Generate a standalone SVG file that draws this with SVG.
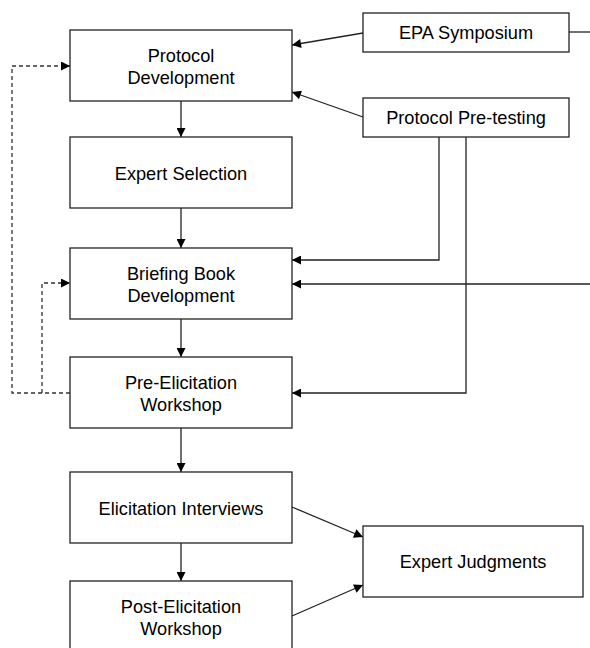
<svg xmlns="http://www.w3.org/2000/svg" width="590" height="648" viewBox="0 0 590 648">
<style>
.box{fill:#fff;stroke:#222;stroke-width:1.3}
.t{font-family:"Liberation Sans",Arial,sans-serif;font-size:18.2px;fill:#000;text-anchor:middle}
.c{fill:none;stroke:#222;stroke-width:1.3}
.d{fill:none;stroke:#333;stroke-width:1.3;stroke-dasharray:4,3}
</style>
<defs>
<marker id="a" viewBox="0 0 10 10" refX="10" refY="5" markerWidth="11" markerHeight="9" markerUnits="userSpaceOnUse" orient="auto"><path d="M0,0L10,5L0,10z" fill="#000"/></marker>
</defs>
<g id="connectors">
<line class="c" x1="181" y1="101" x2="181" y2="137" marker-end="url(#a)"/>
<line class="c" x1="181" y1="208" x2="181" y2="248" marker-end="url(#a)"/>
<line class="c" x1="181" y1="319" x2="181" y2="357" marker-end="url(#a)"/>
<line class="c" x1="181" y1="428" x2="181" y2="472" marker-end="url(#a)"/>
<line class="c" x1="181" y1="543" x2="181" y2="581" marker-end="url(#a)"/>
<line class="c" x1="363" y1="33" x2="292" y2="45" marker-end="url(#a)"/>
<line class="c" x1="569" y1="32" x2="590" y2="32"/>
<line class="c" x1="363" y1="117" x2="292" y2="92" marker-end="url(#a)"/>
<polyline class="c" points="439,137 439,260 292,260" marker-end="url(#a)"/>
<line class="c" x1="590" y1="284" x2="292" y2="284" marker-end="url(#a)"/>
<polyline class="c" points="466,137 466,393 292,393" marker-end="url(#a)"/>
<line class="c" x1="292" y1="507" x2="363" y2="537" marker-end="url(#a)"/>
<line class="c" x1="292" y1="616" x2="363" y2="585" marker-end="url(#a)"/>
<polyline class="d" points="70,393 12,393 12,66 70,66" marker-end="url(#a)"/>
<polyline class="d" points="42,393 42,283 70,283" marker-end="url(#a)"/>
</g>
<g id="protocol-development"><rect class="box" x="70" y="30" width="222" height="71"/><text class="t" x="181" y="62">Protocol</text><text class="t" x="181" y="84">Development</text></g>
<g id="expert-selection"><rect class="box" x="70" y="137" width="222" height="71"/><text class="t" x="181" y="180">Expert Selection</text></g>
<g id="briefing-book"><rect class="box" x="70" y="248" width="222" height="71"/><text class="t" x="181" y="280">Briefing Book</text><text class="t" x="181" y="302">Development</text></g>
<g id="pre-elicitation"><rect class="box" x="70" y="357" width="222" height="71"/><text class="t" x="181" y="389">Pre-Elicitation</text><text class="t" x="181" y="411">Workshop</text></g>
<g id="elicitation-interviews"><rect class="box" x="70" y="472" width="222" height="71"/><text class="t" x="181" y="515">Elicitation Interviews</text></g>
<g id="post-elicitation"><rect class="box" x="70" y="581" width="222" height="80"/><text class="t" x="181" y="613">Post-Elicitation</text><text class="t" x="181" y="635">Workshop</text></g>
<g id="epa-symposium"><rect class="box" x="363" y="13" width="206" height="39"/><text class="t" x="466" y="39">EPA Symposium</text></g>
<g id="protocol-pretesting"><rect class="box" x="363" y="98" width="206" height="39"/><text class="t" x="466" y="124">Protocol Pre-testing</text></g>
<g id="expert-judgments"><rect class="box" x="363" y="526" width="220" height="71"/><text class="t" x="473" y="568">Expert Judgments</text></g>
</svg>
